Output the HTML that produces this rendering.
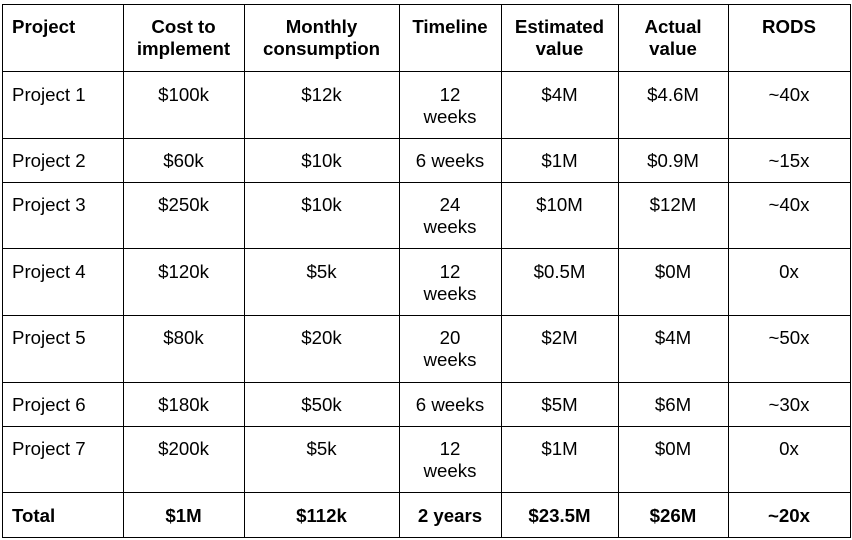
<!DOCTYPE html>
<html>
<head>
<meta charset="utf-8">
<style>
  html,body{margin:0;padding:0;background:#fff;}
  body{width:852px;height:540px;position:relative;overflow:hidden;
       font-family:"Liberation Sans",Arial,sans-serif;font-size:18.67px;color:#000;}
  .h{position:absolute;left:2px;width:849px;height:1.4px;background:#000;}
  .v{position:absolute;top:3.5px;height:534px;width:1.4px;background:#000;}
  .c{position:absolute;line-height:22px;text-align:center;white-space:nowrap;}
  .l{text-align:left;}
  .b{font-weight:bold;}
</style>
</head>
<body>
<!-- horizontal lines -->
<div class="h" style="top:3.5px;height:1.6px"></div>
<div class="h" style="top:70.8px"></div>
<div class="h" style="top:137.8px"></div>
<div class="h" style="top:181.5px"></div>
<div class="h" style="top:248px"></div>
<div class="h" style="top:314.8px"></div>
<div class="h" style="top:381.5px"></div>
<div class="h" style="top:425.8px"></div>
<div class="h" style="top:491.8px"></div>
<div class="h" style="top:536.5px"></div>
<!-- vertical lines -->
<div class="v" style="left:2px"></div>
<div class="v" style="left:123px"></div>
<div class="v" style="left:244px"></div>
<div class="v" style="left:398.8px"></div>
<div class="v" style="left:501px"></div>
<div class="v" style="left:617.8px"></div>
<div class="v" style="left:728px"></div>
<div class="v" style="left:850px"></div>

<!-- header -->
<div class="c l b" style="left:12px;top:16px;">Project</div>
<div class="c b" style="left:123px;width:121px;top:16px;">Cost to<br>implement</div>
<div class="c b" style="left:244px;width:155px;top:16px;">Monthly<br>consumption</div>
<div class="c b" style="left:399px;width:102px;top:16px;">Timeline</div>
<div class="c b" style="left:501px;width:117px;top:16px;">Estimated<br>value</div>
<div class="c b" style="left:618px;width:110px;top:16px;">Actual<br>value</div>
<div class="c b" style="left:728px;width:122px;top:16px;">RODS</div>

<!-- Project 1 -->
<div class="c l" style="left:12px;top:84px;">Project 1</div>
<div class="c" style="left:123px;width:121px;top:84px;">$100k</div>
<div class="c" style="left:244px;width:155px;top:84px;">$12k</div>
<div class="c" style="left:399px;width:102px;top:84px;">12<br>weeks</div>
<div class="c" style="left:501px;width:117px;top:84px;">$4M</div>
<div class="c" style="left:618px;width:110px;top:84px;">$4.6M</div>
<div class="c" style="left:728px;width:122px;top:84px;">~40x</div>

<!-- Project 2 -->
<div class="c l" style="left:12px;top:150px;">Project 2</div>
<div class="c" style="left:123px;width:121px;top:150px;">$60k</div>
<div class="c" style="left:244px;width:155px;top:150px;">$10k</div>
<div class="c" style="left:399px;width:102px;top:150px;">6 weeks</div>
<div class="c" style="left:501px;width:117px;top:150px;">$1M</div>
<div class="c" style="left:618px;width:110px;top:150px;">$0.9M</div>
<div class="c" style="left:728px;width:122px;top:150px;">~15x</div>

<!-- Project 3 -->
<div class="c l" style="left:12px;top:194px;">Project 3</div>
<div class="c" style="left:123px;width:121px;top:194px;">$250k</div>
<div class="c" style="left:244px;width:155px;top:194px;">$10k</div>
<div class="c" style="left:399px;width:102px;top:194px;">24<br>weeks</div>
<div class="c" style="left:501px;width:117px;top:194px;">$10M</div>
<div class="c" style="left:618px;width:110px;top:194px;">$12M</div>
<div class="c" style="left:728px;width:122px;top:194px;">~40x</div>

<!-- Project 4 -->
<div class="c l" style="left:12px;top:261px;">Project 4</div>
<div class="c" style="left:123px;width:121px;top:261px;">$120k</div>
<div class="c" style="left:244px;width:155px;top:261px;">$5k</div>
<div class="c" style="left:399px;width:102px;top:261px;">12<br>weeks</div>
<div class="c" style="left:501px;width:117px;top:261px;">$0.5M</div>
<div class="c" style="left:618px;width:110px;top:261px;">$0M</div>
<div class="c" style="left:728px;width:122px;top:261px;">0x</div>

<!-- Project 5 -->
<div class="c l" style="left:12px;top:327px;">Project 5</div>
<div class="c" style="left:123px;width:121px;top:327px;">$80k</div>
<div class="c" style="left:244px;width:155px;top:327px;">$20k</div>
<div class="c" style="left:399px;width:102px;top:327px;">20<br>weeks</div>
<div class="c" style="left:501px;width:117px;top:327px;">$2M</div>
<div class="c" style="left:618px;width:110px;top:327px;">$4M</div>
<div class="c" style="left:728px;width:122px;top:327px;">~50x</div>

<!-- Project 6 -->
<div class="c l" style="left:12px;top:394px;">Project 6</div>
<div class="c" style="left:123px;width:121px;top:394px;">$180k</div>
<div class="c" style="left:244px;width:155px;top:394px;">$50k</div>
<div class="c" style="left:399px;width:102px;top:394px;">6 weeks</div>
<div class="c" style="left:501px;width:117px;top:394px;">$5M</div>
<div class="c" style="left:618px;width:110px;top:394px;">$6M</div>
<div class="c" style="left:728px;width:122px;top:394px;">~30x</div>

<!-- Project 7 -->
<div class="c l" style="left:12px;top:438px;">Project 7</div>
<div class="c" style="left:123px;width:121px;top:438px;">$200k</div>
<div class="c" style="left:244px;width:155px;top:438px;">$5k</div>
<div class="c" style="left:399px;width:102px;top:438px;">12<br>weeks</div>
<div class="c" style="left:501px;width:117px;top:438px;">$1M</div>
<div class="c" style="left:618px;width:110px;top:438px;">$0M</div>
<div class="c" style="left:728px;width:122px;top:438px;">0x</div>

<!-- Total -->
<div class="c l b" style="left:12px;top:505px;">Total</div>
<div class="c b" style="left:123px;width:121px;top:505px;">$1M</div>
<div class="c b" style="left:244px;width:155px;top:505px;">$112k</div>
<div class="c b" style="left:399px;width:102px;top:505px;">2 years</div>
<div class="c b" style="left:501px;width:117px;top:505px;">$23.5M</div>
<div class="c b" style="left:618px;width:110px;top:505px;">$26M</div>
<div class="c b" style="left:728px;width:122px;top:505px;">~20x</div>
</body>
</html>
